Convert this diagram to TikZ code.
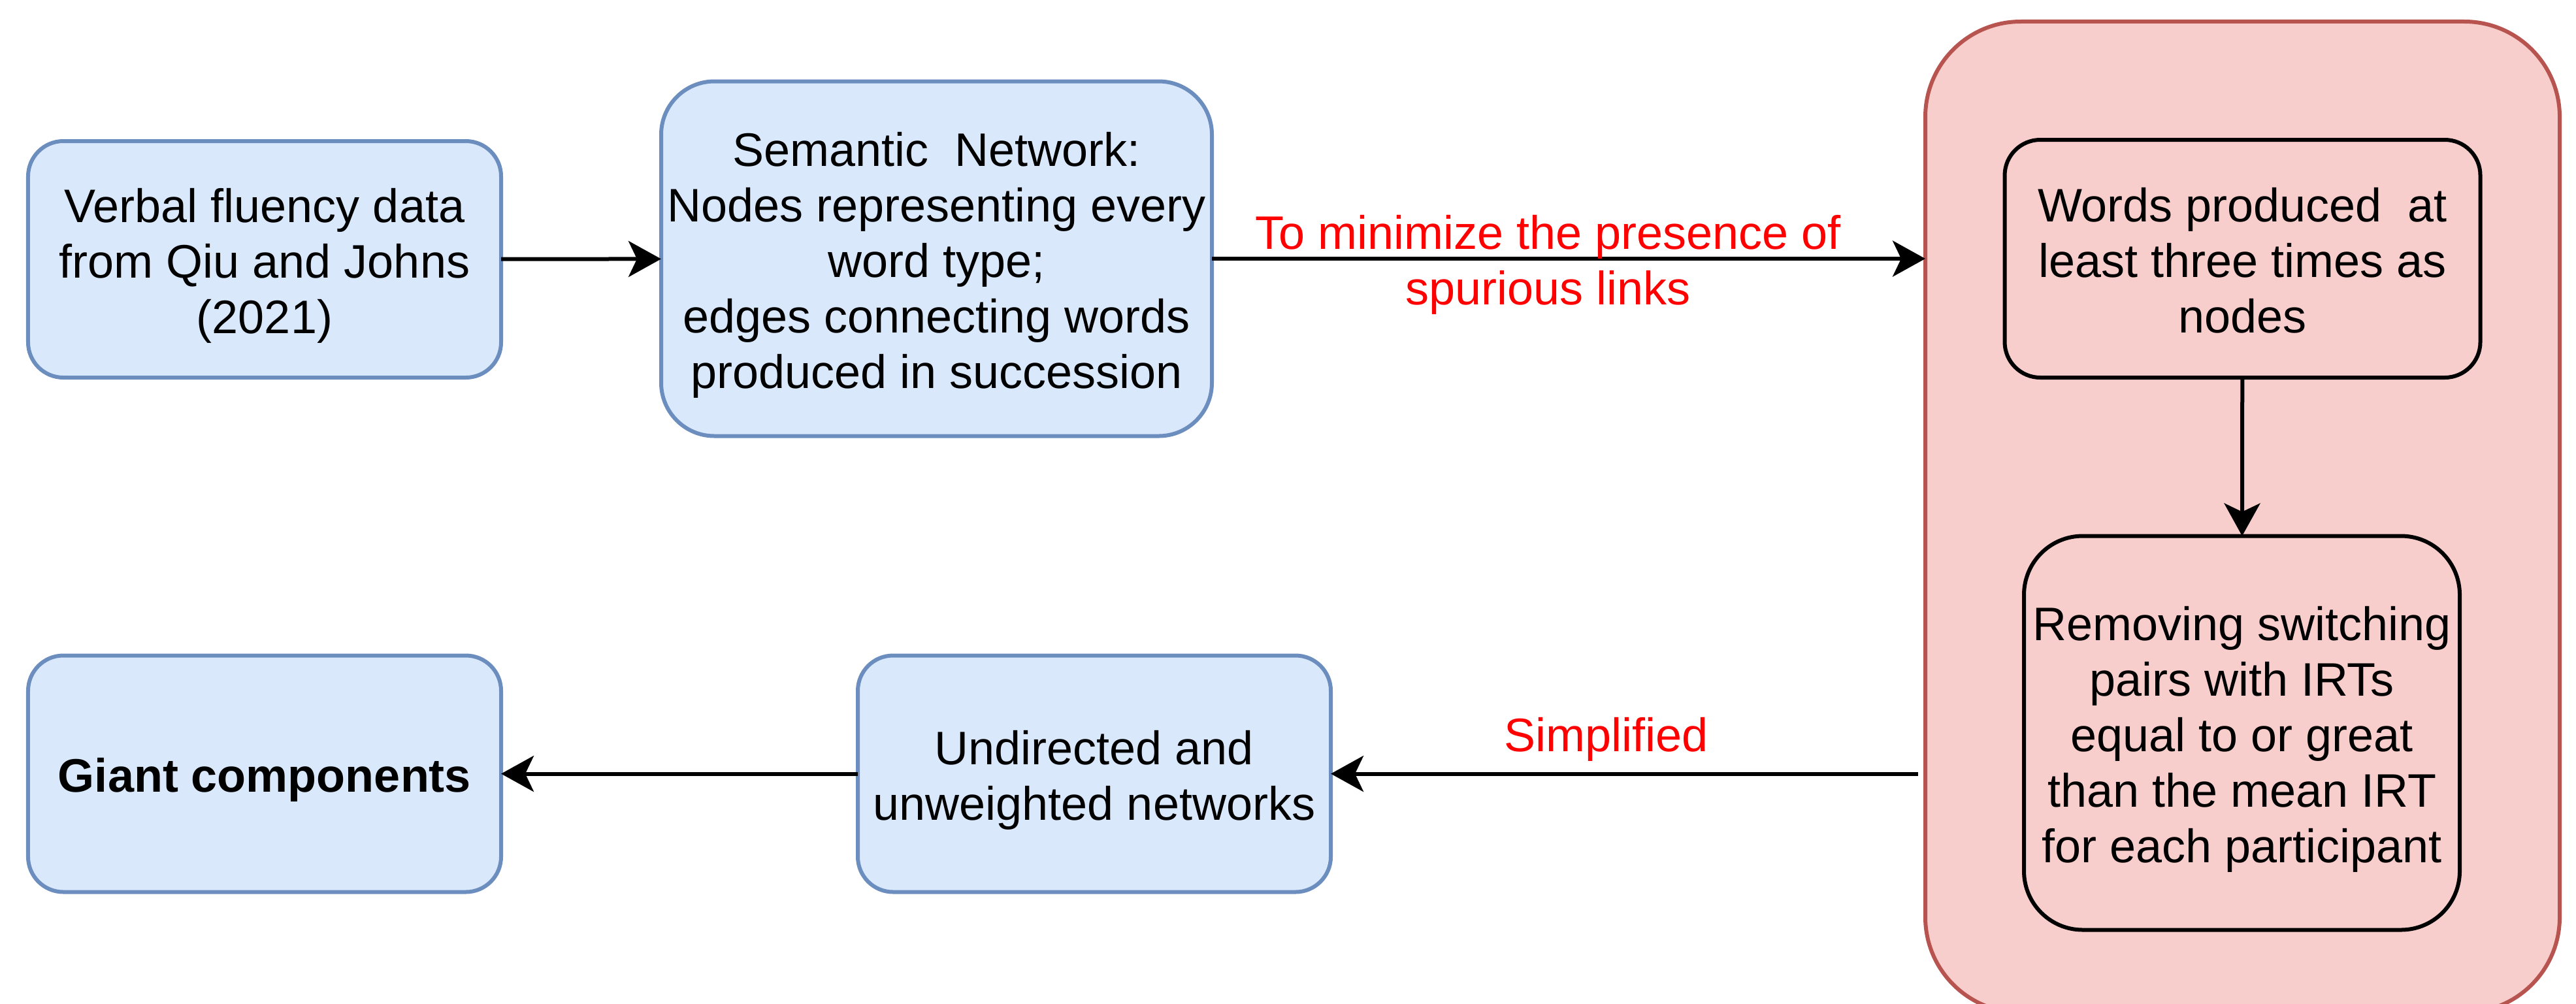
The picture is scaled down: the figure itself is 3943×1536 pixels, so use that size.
\documentclass[tikz,border=0pt]{standalone}
\usepackage{fontspec}
\setmainfont{Liberation Sans}
\usetikzlibrary{arrows.meta}
\definecolor{bfill}{HTML}{DAE8FC}
\definecolor{bline}{HTML}{6C8EBF}
\definecolor{rfill}{HTML}{F8CECC}
\definecolor{rline}{HTML}{B85450}
\definecolor{lblred}{HTML}{FF0000}
\newcommand{\topst}{\rule{0pt}{14.4pt}}
\newcommand{\botst}{\rule[-3.2pt]{0pt}{3.2pt}}
\begin{document}
\begin{tikzpicture}[x=0.2pt,y=-0.2pt,
  every node/.style={font=\fontsize{14.4pt}{17pt}\selectfont, align=center, inner sep=0pt, outer sep=0pt},
  bluebox/.style={draw=bline, fill=bfill, line width=1.2pt, minimum width=144.8pt, minimum height=72.4pt, rounded corners=10.8pt},
  container/.style={draw=rline, fill=rfill, line width=1.2pt, minimum width=194.2pt, minimum height=303.4pt, rounded corners=29.2pt},
  innerbox/.style={draw=black, line width=1.2pt},
  arr/.style={line width=1.2pt, -{Stealth[length=10pt,width=11pt,inset=2.6pt]}},
  lbl/.style={text=lblred}
]
\useasboundingbox (0,0) rectangle (3943,1536);
\clip (0,0) rectangle (3943,1536);
% container
\node[container] (cont) at (3432.5,791.5) {};
% blue boxes
\node[bluebox] (A) at (405,397) {\topst Verbal fluency data\\from Qiu and Johns\\(2021)\botst};
\node[bluebox, minimum width=168.6pt, minimum height=108.6pt, rounded corners=16.3pt] (B) at (1433.5,396)
  {\topst Semantic~ Network:\\Nodes representing every\\word type;\\edges connecting words\\produced in succession\botst};
\node[bluebox] (C) at (1675,1184.5) {\topst Undirected and\\unweighted networks\botst};
\node[bluebox] (D) at (405,1184.5) {\topst\bfseries Giant components\botst};
% inner boxes
\node[innerbox, minimum width=145.6pt, minimum height=72.8pt, rounded corners=10.9pt] (I1) at (3432.5,396)
  {\topst Words produced~ at\\least three times as\\nodes\botst};
\node[innerbox, minimum width=133.4pt, minimum height=120.6pt, rounded corners=18pt] (I2) at (3431.5,1122)
  {\topst Removing switching\\pairs with IRTs\\equal to or great\\than the mean IRT\\for each participant\botst};
% connectors
\draw[arr] (A) -- (B);
\draw[arr] (B.east) -- node[lbl, pos=0.471] {\topst To minimize the presence of\\spurious links\botst} (B.east -| cont.west);
\draw[arr] (I1) -- (I2);
\path (cont.west |- C.east) ++(-11,0) coordinate (s);
\draw[arr] (s) -- node[lbl, pos=0.531, anchor=base, yshift=6.8pt] {Simplified} (C.east);
\draw[arr] (C) -- (D);
\end{tikzpicture}
\end{document}
